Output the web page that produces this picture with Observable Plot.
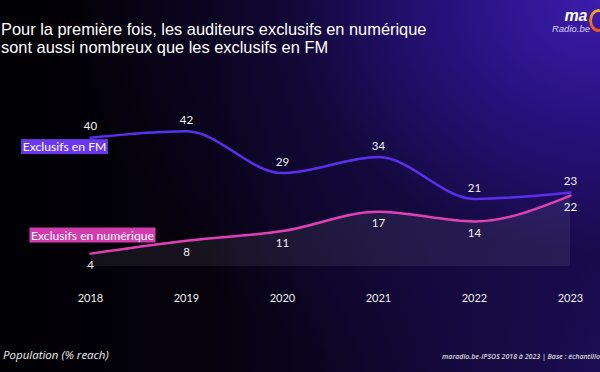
<!DOCTYPE html>
<html>
<head>
<meta charset="utf-8">
<script src="https://cdn.jsdelivr.net/npm/d3@7"></script>
<script src="https://cdn.jsdelivr.net/npm/@observablehq/plot@0.6"></script>
<style>
  html, body { margin: 0; padding: 0; background: #000; }
  #frame {
    position: relative; width: 600px; height: 372px; overflow: hidden;
    background:
      radial-gradient(ellipse 520px 420px at 100% 0%, rgba(60,28,172,1) 0%, rgba(40,18,130,0.9) 30%, rgba(22,10,70,0.6) 60%, rgba(0,0,0,0) 100%),
      linear-gradient(90deg, #020105 0%, #05020c 35%, #120835 70%, #1e0d55 100%);
    font-family: "Liberation Sans", Arial, Helvetica, sans-serif;
  }
  #title {
    position: relative; height: 62px; box-sizing: border-box;
    padding: 20px 0 0 1px; color: #fff; font-size: 16.4px; line-height: 18px;
    font-family: "Liberation Sans", Arial, Helvetica, sans-serif; white-space: nowrap;
  }
  #logo { position: absolute; right: 0; top: 0; width: 60px; height: 40px; }
  #logo .ma { position: absolute; right: 13px; top: 7px; font: italic bold 16px "Liberation Sans", Arial; color: #fff; letter-spacing: -0.3px; }
  #logo .rb { position: absolute; right: 10px; top: 23px; font: italic 9.5px "Liberation Sans", Arial; color: #d8d0f0; }
  #logo .ring { position: absolute; right: -8px; top: 9px; width: 13px; height: 17px; border-radius: 50%;
    border: 3px solid transparent; background: conic-gradient(#f0b020, #e83030, #f06a20, #f0b020) border-box;
    -webkit-mask: linear-gradient(#000 0 0) padding-box exclude, linear-gradient(#000 0 0); mask: linear-gradient(#000 0 0) padding-box exclude, linear-gradient(#000 0 0); }
  #chart svg { display: block; }
  #footer { position: relative; height: 30px; }
  #footer .left { position: absolute; left: 3px; top: 5px; color: #eee; font: italic 11.5px "Open Sans", "DejaVu Sans", sans-serif; }
  #footer .right { position: absolute; right: 0; top: 10px; color: #ddd; white-space: nowrap; font: italic 600 7px "Open Sans", "DejaVu Sans", sans-serif; }
</style>
</head>
<body>
<div id="frame">
  <div id="title">Pour la première fois, les auditeurs exclusifs en numérique<br>sont aussi nombreux que les exclusifs en FM</div>
  <div id="logo"><span class="ma">ma</span><span class="rb">Radio.be</span><span class="ring"></span></div>
  <div id="chart"></div>
  <div id="footer">
    <span class="left">Population (% reach)</span>
    <span class="right">maradio.be-IPSOS 2018 à 2023 | Base : échantillo</span>
  </div>
</div>
<script>
const years = [2018, 2019, 2020, 2021, 2022, 2023];
const fm = [40, 42, 29, 34, 21, 23];
const numerique = [4, 8, 11, 17, 14, 22];
const seriesNames = ["Exclusifs en FM", "Exclusifs en numérique"];

const fmData = years.map((year, i) => ({year, value: fm[i]}));
const numData = years.map((year, i) => ({year, value: numerique[i]}));

const fmColor = "#5b2ff0";
const numColor = "#e040b4";
const labelFont = "Lato, 'Open Sans', sans-serif";

const plot = Plot.plot({
  width: 600,
  height: 280,
  marginLeft: 90,
  marginRight: 30,
  marginTop: 43,
  marginBottom: 76,
  style: {background: "transparent", color: "#fff", fontFamily: labelFont},
  x: {domain: [2018, 2023], ticks: years, tickFormat: d3.format("d"), label: null},
  y: {domain: [0, 50], axis: null},
  marks: [
    Plot.areaY(numData, {x: "year", y: "value", curve: "monotone-x", fill: "#ffffff", fillOpacity: 0.07}),
    Plot.lineY(fmData, {x: "year", y: "value", curve: "monotone-x", stroke: fmColor, strokeWidth: 2.5}),
    Plot.lineY(numData, {x: "year", y: "value", curve: "monotone-x", stroke: numColor, strokeWidth: 2.5}),
    Plot.text(fmData, {x: "year", y: "value", text: "value", dy: -11, fill: "#f2f2f2", fontSize: 11.5}),
    Plot.text(numData, {x: "year", y: "value", text: "value", dy: 12, fill: "#f2f2f2", fontSize: 11.5}),
    Plot.text([fmData[0]], {x: "year", y: "value", text: () => seriesNames[0], dx: -26, dy: 9.5, fill: "#fff", fontSize: 12.2, className: "serieslabel fmlabel"}),
    Plot.text([numData[0]], {x: "year", y: "value", text: () => seriesNames[1], dx: 2, dy: -18, fill: "#fff", fontSize: 12.2, className: "serieslabel numlabel"}),
    Plot.axisX({ticks: years, tickFormat: d3.format("d"), tickSize: 0, tickPadding: 28, fontSize: 11, color: "#eee", anchor: "bottom", label: null})
  ]
});
document.getElementById("chart").appendChild(plot);

// background boxes behind series labels
[["fmlabel", "#6a38ec"], ["numlabel", "#d23cae"]].forEach(([cls, col]) => {
  const g = plot.querySelector("g." + cls);
  if (!g) return;
  g.querySelectorAll("text").forEach(t => {
    const b = t.getBBox();
    const r = document.createElementNS("http://www.w3.org/2000/svg", "rect");
    r.setAttribute("x", b.x - 1.5);
    r.setAttribute("y", b.y);
    r.setAttribute("width", b.width + 3);
    r.setAttribute("height", b.height);
    r.setAttribute("fill", col);
    const tr = t.getAttribute("transform");
    if (tr) r.setAttribute("transform", tr);
    g.insertBefore(r, t);
  });
});
</script>
</body>
</html>
